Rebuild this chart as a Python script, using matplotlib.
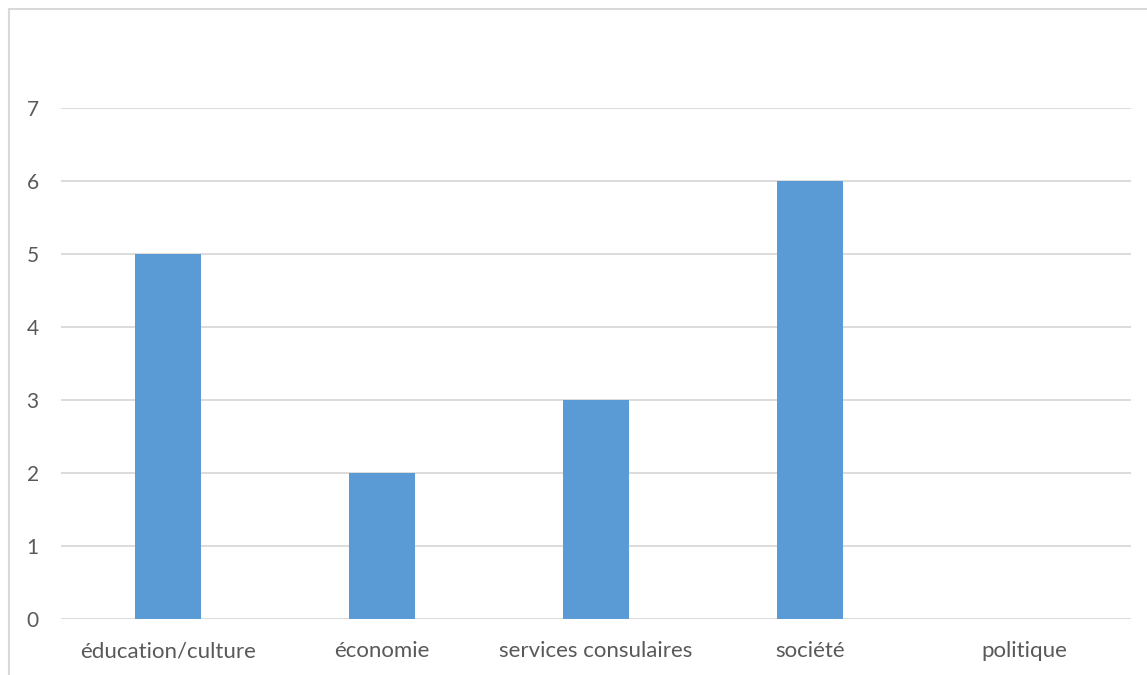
import matplotlib.pyplot as plt
from matplotlib.patches import Rectangle

categories = ['éducation/culture', 'économie', 'services consulaires', 'société', 'politique']
values = [5, 2, 3, 6, 0]
yticks = [0, 1, 2, 3, 4, 5, 6, 7]

plt.rcParams['font.family'] = ['Lato', 'DejaVu Sans']

fig = plt.figure(figsize=(11.47, 6.75), dpi=100)
W, H = 1147, 675

# chart frame, runs off the right and bottom edges
fig.patches.append(Rectangle((9 / W, -0.1), 1.2, 1 - 9 / H + 0.1, transform=fig.transFigure,
                             fill=False, edgecolor='#d9d9d9', linewidth=1.5))

ax = fig.add_axes([61 / W, 1 - 619 / H, (1131 - 61) / W, (619 - 108) / H])

x = [i + 0.5 for i in range(len(categories))]
ax.bar(x, values, width=0.313, color='#5b9bd5', zorder=3)

ax.set_xlim(0, len(categories))
ax.set_ylim(0, 7)
ax.set_yticks(yticks)
ax.set_xticks(x)
ax.set_xticklabels(categories, fontsize=16)

for s in ax.spines.values():
    s.set_visible(False)
ax.grid(axis='y', color='#d9d9d9', linewidth=1.3, zorder=0)
ax.set_axisbelow(True)
ax.tick_params(axis='both', length=0, colors='#595959')
ax.tick_params(axis='y', pad=16, labelsize=15)
ax.tick_params(axis='x', pad=16)

fig.savefig('out.png', dpi=100)
